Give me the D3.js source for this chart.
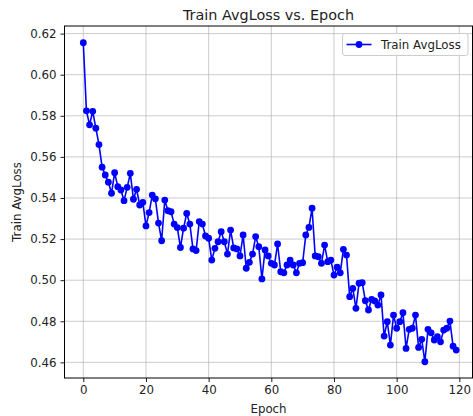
<!DOCTYPE html>
<html>
<head>
<meta charset="utf-8">
<script src="https://cdn.jsdelivr.net/npm/d3@7"></script>
<style>
  html, body { margin: 0; padding: 0; background: #fff; }
  svg { display: block; font-family: "DejaVu Sans", sans-serif; }
</style>
</head>
<body>
<svg id="chart" width="473" height="416"></svg>
<script>
// Average training loss per epoch
const trainAvgLoss = [
  0.6156, 0.5824, 0.5756, 0.5822, 0.5740, 0.5660, 0.5550, 0.5512, 0.5477, 0.5423,
  0.5523, 0.5455, 0.5439, 0.5387, 0.5452, 0.5520, 0.5394, 0.5442, 0.5366, 0.5379,
  0.5264, 0.5329, 0.5414, 0.5396, 0.5278, 0.5192, 0.5390, 0.5338, 0.5333, 0.5273,
  0.5256, 0.5159, 0.5253, 0.5325, 0.5273, 0.5152, 0.5144, 0.5285, 0.5273, 0.5215,
  0.5204, 0.5098, 0.5155, 0.5187, 0.5236, 0.5187, 0.5127, 0.5244, 0.5157, 0.5152,
  0.5118, 0.5220, 0.5058, 0.5087, 0.5127, 0.5212, 0.5163, 0.5006, 0.5147, 0.5118,
  0.5082, 0.5074, 0.5176, 0.5041, 0.5036, 0.5074, 0.5098, 0.5074, 0.5036, 0.5082,
  0.5085, 0.5220, 0.5257, 0.5350, 0.5118, 0.5114, 0.5082, 0.5171, 0.5090, 0.5098,
  0.5025, 0.5063, 0.5036, 0.5150, 0.5122, 0.4920, 0.4960, 0.4863, 0.4985, 0.4988,
  0.4900, 0.4855, 0.4907, 0.4899, 0.4879, 0.4928, 0.4728, 0.4798, 0.4684, 0.4830,
  0.4766, 0.4798, 0.4842, 0.4668, 0.4761, 0.4766, 0.4830, 0.4673, 0.4712, 0.4603,
  0.4761, 0.4744, 0.4709, 0.4725, 0.4700, 0.4757, 0.4766, 0.4801, 0.4679, 0.4660
];
const epochs = d3.range(trainAvgLoss.length);

const xTicks = [0, 20, 40, 60, 80, 100, 120];
const yTicks = [0.46, 0.48, 0.50, 0.52, 0.54, 0.56, 0.58, 0.60, 0.62];

const titleText = "Train AvgLoss vs. Epoch";
const xLabel = "Epoch";
const yLabel = "Train AvgLoss";
const seriesName = "Train AvgLoss";

const svg = d3.select("#chart");
const plot = { left: 64.5, right: 472.5, top: 26, bottom: 378 };

const x = d3.scaleLinear().domain([-6, 124.2]).range([plot.left, plot.right]);
const y = d3.scaleLinear().domain([0.4524, 0.6237]).range([plot.bottom, plot.top]);

const tickFont = 11.8;
const color = "#0000ff";

// grid
const grid = svg.append("g");
grid.selectAll("line.vx").data(xTicks).join("line")
  .attr("x1", d => x(d)).attr("x2", d => x(d))
  .attr("y1", plot.top).attr("y2", plot.bottom)
  .attr("stroke", "#b0b0b0").attr("stroke-opacity", 0.65).attr("stroke-width", 1);
grid.selectAll("line.hy").data(yTicks).join("line")
  .attr("x1", plot.left).attr("x2", plot.right)
  .attr("y1", d => y(d)).attr("y2", d => y(d))
  .attr("stroke", "#b0b0b0").attr("stroke-opacity", 0.65).attr("stroke-width", 1);

// axes
const xAxis = d3.axisBottom(x).tickValues(xTicks).tickSize(4).tickPadding(4).tickFormat(d3.format("d"));
const yAxis = d3.axisLeft(y).tickValues(yTicks).tickSize(4).tickPadding(4).tickFormat(d3.format(".2f"));

const gx = svg.append("g").attr("transform", `translate(0,${plot.bottom})`).call(xAxis);
const gy = svg.append("g").attr("transform", `translate(${plot.left},0)`).call(yAxis);
[gx, gy].forEach(g => {
  g.select(".domain").remove();
  g.selectAll(".tick line").attr("stroke", "#000").attr("stroke-width", 0.9);
  g.selectAll(".tick text").attr("fill", "#222").attr("font-size", tickFont)
    .attr("font-family", "DejaVu Sans, sans-serif");
});

// frame
svg.append("rect")
  .attr("x", plot.left).attr("y", plot.top)
  .attr("width", plot.right - plot.left).attr("height", plot.bottom - plot.top)
  .attr("fill", "none").attr("stroke", "#000").attr("stroke-width", 1);

// series line and markers
const pts = epochs.map((e, i) => [e, trainAvgLoss[i]]);
const line = d3.line().x(d => x(d[0])).y(d => y(d[1]));
svg.append("path").datum(pts)
  .attr("d", line).attr("fill", "none")
  .attr("stroke", color).attr("stroke-width", 1.6).attr("stroke-linejoin", "round");
svg.append("g").selectAll("circle").data(pts).join("circle")
  .attr("cx", d => x(d[0])).attr("cy", d => y(d[1])).attr("r", 3.4)
  .attr("fill", color);

// title and axis labels
svg.append("text").attr("x", (plot.left + plot.right) / 2).attr("y", 19.5)
  .attr("text-anchor", "middle").attr("font-size", 14.4).attr("fill", "#222").text(titleText);
svg.append("text").attr("x", (plot.left + plot.right) / 2).attr("y", 413)
  .attr("text-anchor", "middle").attr("font-size", tickFont).attr("fill", "#222").text(xLabel);
svg.append("text")
  .attr("transform", `translate(21,${(plot.top + plot.bottom) / 2}) rotate(-90)`)
  .attr("text-anchor", "middle").attr("font-size", tickFont).attr("fill", "#222").text(yLabel);

// legend
const lg = svg.append("g").attr("transform", "translate(342.5,33.5)");
lg.append("rect").attr("width", 125.5).attr("height", 22).attr("rx", 2.5)
  .attr("fill", "#fff").attr("fill-opacity", 0.8).attr("stroke", "#cccccc");
lg.append("line").attr("x1", 4).attr("x2", 29).attr("y1", 11).attr("y2", 11)
  .attr("stroke", color).attr("stroke-width", 1.6);
lg.append("circle").attr("cx", 16.5).attr("cy", 11).attr("r", 3.4).attr("fill", color);
lg.append("text").attr("x", 38.5).attr("y", 15).attr("font-size", tickFont)
  .attr("fill", "#222").text(seriesName);
</script>
</body>
</html>
